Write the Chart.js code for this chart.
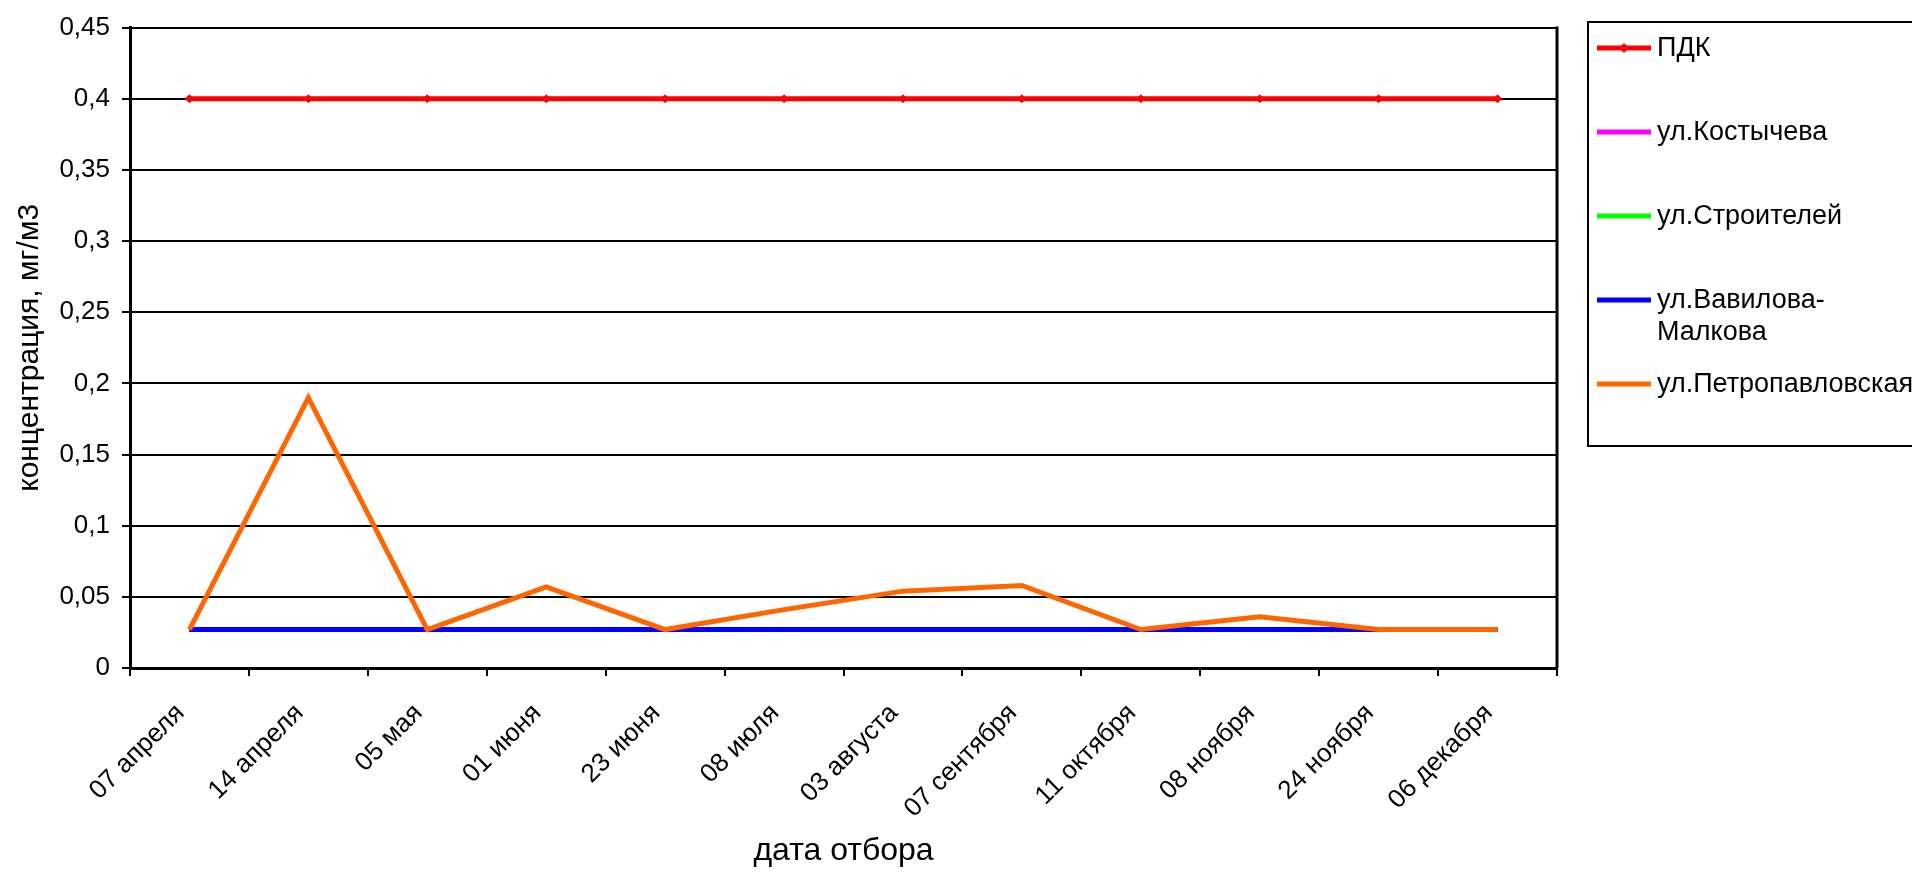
<!DOCTYPE html>
<html>
<head>
<meta charset="utf-8">
<script src="https://cdn.jsdelivr.net/npm/chart.js@4/dist/chart.umd.min.js"></script>
<style>
  html, body { margin: 0; padding: 0; background: #fff; }
  #wrap { width: 1912px; height: 872px; }
</style>
</head>
<body>
<div id="wrap"><canvas id="chart" width="1912" height="872"></canvas></div>
<script>
// даты отбора проб
const dates = ['07 апреля', '14 апреля', '05 мая', '01 июня', '23 июня', '08 июля',
               '03 августа', '07 сентября', '11 октября', '08 ноября', '24 ноября', '06 декабря'];

// концентрация, мг/м3
const pdk         = [0.4, 0.4, 0.4, 0.4, 0.4, 0.4, 0.4, 0.4, 0.4, 0.4, 0.4, 0.4];
const kostycheva  = [0.027, 0.027, 0.027, 0.027, 0.027, 0.027, 0.027, 0.027, 0.027, 0.027, 0.027, 0.027];
const stroiteley  = [0.027, 0.027, 0.027, 0.027, 0.027, 0.027, 0.027, 0.027, 0.027, 0.027, 0.027, 0.027];
const vavilova    = [0.027, 0.027, 0.027, 0.027, 0.027, 0.027, 0.027, 0.027, 0.027, 0.027, 0.027, 0.027];
const petropavl   = [0.027, 0.19, 0.027, 0.057, 0.027, 0.041, 0.054, 0.058, 0.027, 0.036, 0.027, 0.027];

const yTickLabels = ['0', '0,05', '0,1', '0,15', '0,2', '0,25', '0,3', '0,35', '0,4', '0,45'];

const FONT = '"Liberation Sans", Arial, sans-serif';
const LINE_W = 5;

// later series are painted over earlier ones
function series(label, data, color, idx, withMarkers) {
    return {
        label,
        data,
        order: 10 - idx,
        borderColor: color,
        backgroundColor: color,
        borderWidth: LINE_W,
        tension: 0,
        pointStyle: 'rectRot',
        pointRadius: withMarkers ? 4.5 : 0,
        pointHoverRadius: withMarkers ? 4.5 : 0,
        pointBorderWidth: 0
    };
}

// рамка справа от области построения + легенда в рамке
const frameAndLegend = {
    id: 'frameAndLegend',
    afterDraw(chart) {
        const { ctx, chartArea } = chart;
        ctx.save();
        ctx.strokeStyle = '#000';
        ctx.lineWidth = 3;
        ctx.beginPath();
        ctx.moveTo(chartArea.right, chartArea.top - 1);
        ctx.lineTo(chartArea.right, chartArea.bottom);
        ctx.stroke();

        const boxLeft = 1588, boxTop = 22, boxBottom = 446;
        ctx.lineWidth = 2;
        ctx.strokeRect(boxLeft, boxTop, chart.width - boxLeft + 20, boxBottom - boxTop);

        ctx.font = '27px ' + FONT;
        ctx.textBaseline = 'middle';
        ctx.textAlign = 'left';
        chart.data.datasets.forEach((ds, i) => {
            const y = boxTop + 26 + i * 84;
            ctx.strokeStyle = ds.borderColor;
            ctx.lineWidth = LINE_W;
            ctx.beginPath();
            ctx.moveTo(1597, y);
            ctx.lineTo(1651, y);
            ctx.stroke();
            if (ds.pointRadius > 0) {
                const cx = 1624, r = 5;
                ctx.fillStyle = ds.borderColor;
                ctx.beginPath();
                ctx.moveTo(cx, y - r);
                ctx.lineTo(cx + r, y);
                ctx.lineTo(cx, y + r);
                ctx.lineTo(cx - r, y);
                ctx.closePath();
                ctx.fill();
            }
            ctx.fillStyle = '#000';
            const lines = ds.label.replace(/-(?=\S)/, '-\n').split('\n');
            lines.forEach((t, j) => ctx.fillText(t, 1657, y + 1 + j * 32));
        });
        ctx.restore();
    }
};

new Chart(document.getElementById('chart'), {
    type: 'line',
    data: {
        labels: dates,
        datasets: [
            series('ПДК', pdk, '#ff0000', 0, true),
            series('ул.Костычева', kostycheva, '#ff00ff', 1, false),
            series('ул.Строителей', stroiteley, '#00ff00', 2, false),
            series('ул.Вавилова-Малкова', vavilova, '#0000ff', 3, false),
            series('ул.Петропавловская', petropavl, '#ff6600', 4, false)
        ]
    },
    options: {
        responsive: false,
        animation: false,
        layout: { padding: { top: 22, right: 355, left: 0, bottom: 0 } },
        plugins: {
            legend: { display: false },
            tooltip: { enabled: false }
        },
        scales: {
            x: {
                type: 'category',
                offset: true,
                afterFit(scale) { scale.height = 204; },
                grid: {
                    offset: true,
                    drawOnChartArea: false,
                    drawTicks: true,
                    tickLength: 8,
                    color: '#000',
                    lineWidth: 2
                },
                border: { display: true, color: '#000', width: 3 },
                ticks: {
                    autoSkip: false,
                    minRotation: 45,
                    maxRotation: 45,
                    padding: 22,
                    labelOffset: -9,
                    color: '#000',
                    font: { family: FONT, size: 26 }
                },
                title: {
                    display: true,
                    text: 'дата отбора',
                    color: '#000',
                    font: { family: FONT, size: 32 },
                    padding: { top: 0, bottom: 2 }
                }
            },
            y: {
                min: 0,
                max: 0.45,
                afterFit(scale) { scale.width = 130; },
                grid: {
                    color: '#000',
                    lineWidth: 2,
                    tickLength: 8
                },
                border: { display: true, color: '#000', width: 3 },
                ticks: {
                    stepSize: 0.05,
                    padding: 12,
                    color: '#000',
                    font: { family: FONT, size: 26 },
                    callback: (v, i) => yTickLabels[i]
                },
                title: {
                    display: true,
                    text: 'концентрация, мг/м3',
                    color: '#000',
                    font: { family: FONT, size: 30 },
                    padding: { top: 12, bottom: 0 }
                }
            }
        }
    },
    plugins: [frameAndLegend]
});
</script>
</body>
</html>
